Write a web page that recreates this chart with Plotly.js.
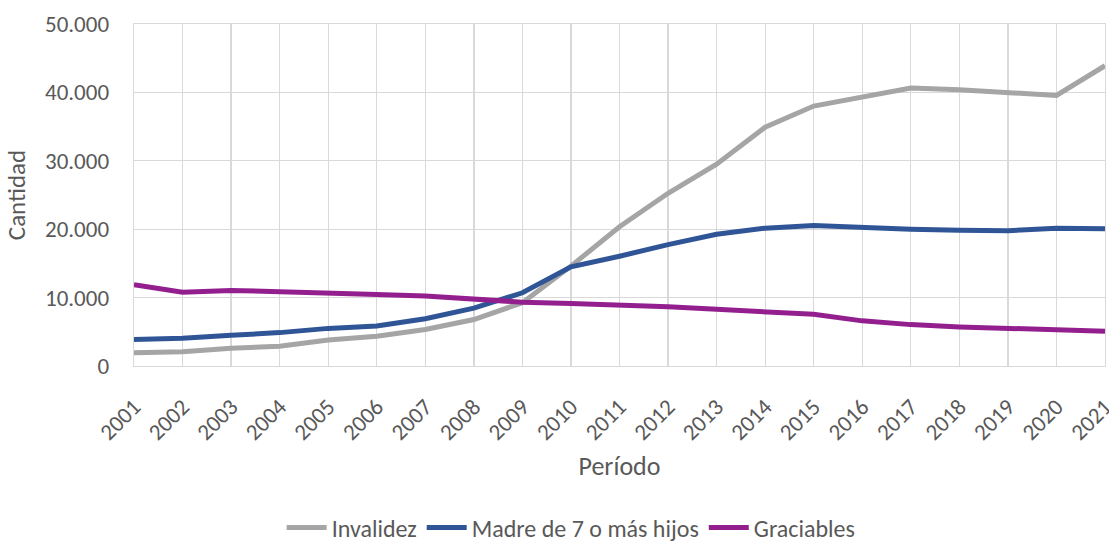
<!DOCTYPE html>
<html>
<head>
<meta charset="utf-8">
<script src="https://cdn.plot.ly/plotly-3.0.1.min.js"></script>
<style>html,body{margin:0;padding:0;background:#fff;}#chart{width:1109px;height:542px;}</style>
</head>
<body>
<div id="chart"></div>
<script>
const years = ["2001","2002","2003","2004","2005","2006","2007","2008","2009","2010","2011","2012","2013","2014","2015","2016","2017","2018","2019","2020","2021"];
const invalidez = [1950,2100,2600,2880,3800,4350,5330,6800,9250,14600,20350,25250,29500,34900,38000,39250,40650,40400,39950,39550,43900];
const madre = [3860,4050,4490,4880,5500,5860,6900,8450,10700,14500,16050,17750,19250,20150,20550,20200,19980,19830,19770,20150,20060];
const graciables = [11900,10800,11050,10900,10650,10450,10250,9770,9330,9130,8930,8650,8300,7850,7550,6600,6050,5720,5520,5240,5080];
const seriesNames = ["Invalidez","Madre de 7 o más hijos","Graciables"];

const font = "Carlito, Calibri, 'Liberation Sans Narrow', 'Liberation Sans', sans-serif";
const txt = "#595959";
const grid = "#D9D9D9";

const traces = [
  {x: years, y: invalidez, name: seriesNames[0], type: "scatter", mode: "lines", line: {color: "#A5A5A5", width: 5}},
  {x: years, y: madre, name: seriesNames[1], type: "scatter", mode: "lines", line: {color: "#2F5597", width: 5}},
  {x: years, y: graciables, name: seriesNames[2], type: "scatter", mode: "lines", line: {color: "#931F8F", width: 5}}
];

const layout = {
  width: 1109, height: 542,
  margin: {l: 134, r: 4, t: 24, b: 176},
  paper_bgcolor: "#fff", plot_bgcolor: "#fff",
  separators: ",.",
  font: {family: font, color: txt, size: 22},
  showlegend: true,
  hovermode: false,
  xaxis: {
    type: "category",
    range: [0, 20],
    tickangle: -45,
    tickfont: {size: 23, color: txt},
    ticklabelstandoff: 17,
    showgrid: true, gridcolor: grid, gridwidth: 1.3,
    showline: true, linecolor: grid, linewidth: 1.3, mirror: true,
    ticks: "", ticklen: 0,
    automargin: false,
    title: {text: "Período", font: {size: 26, color: txt}, standoff: 12},
    zeroline: false
  },
  yaxis: {
    range: [0, 50000],
    dtick: 10000,
    tickformat: ",d",
    tickfont: {size: 23, color: txt},
    ticklabelstandoff: 19,
    showgrid: true, gridcolor: grid, gridwidth: 1.3,
    showline: true, linecolor: grid, linewidth: 1.3, mirror: true,
    ticks: "", ticklen: 0,
    automargin: false,
    title: {text: "Cantidad", font: {size: 25, color: txt}, standoff: 12},
    zeroline: false
  },
  legend: {
    orientation: "h",
    xref: "container",
    x: 0.515, xanchor: "center",
    yref: "container",
    y: 0.026, yanchor: "middle",
    font: {size: 24, color: txt},
    itemwidth: 40,
    tracegroupgap: 0
  }
};

Plotly.newPlot("chart", traces, layout, {displayModeBar: false, staticPlot: true});
</script>
</body>
</html>
